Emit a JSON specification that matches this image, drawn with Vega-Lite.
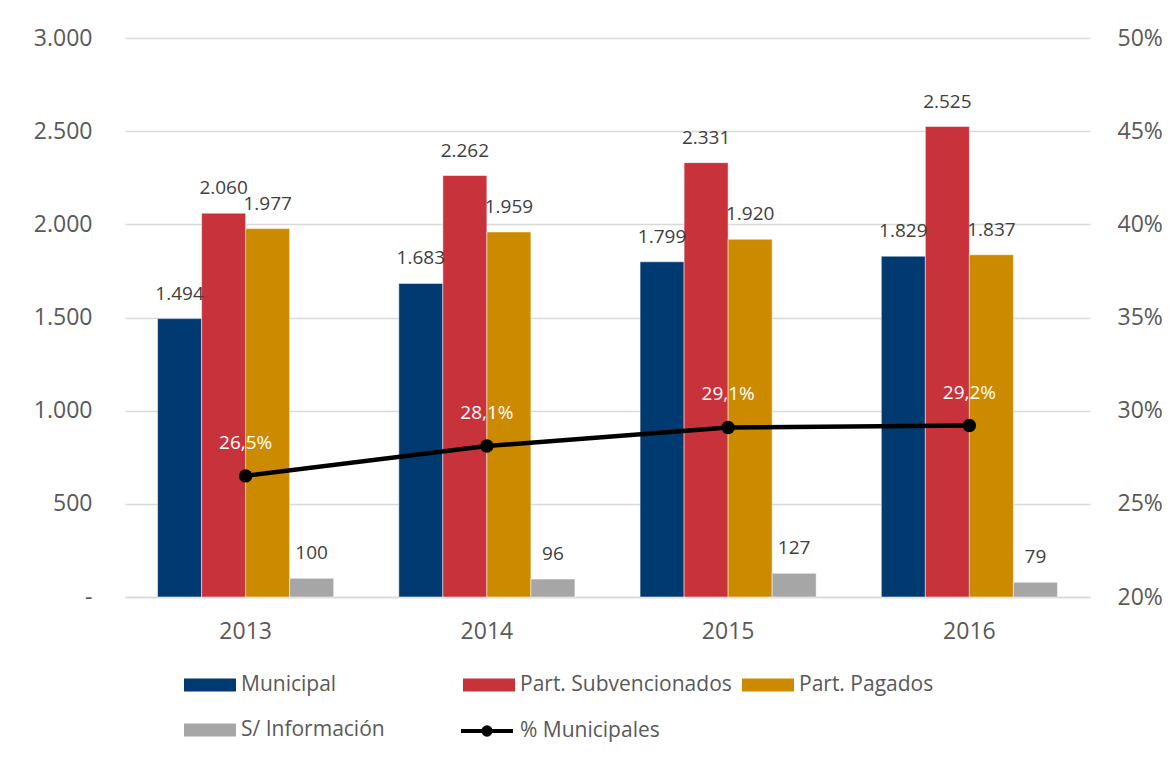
{
  "$schema": "https://vega.github.io/schema/vega-lite/v6.json",
  "width": 965,
  "height": 559,
  "autosize": {"type": "none"},
  "padding": {"left": 125, "top": 38, "right": 82, "bottom": 162},
  "config": {"font": "Open Sans", "view": {"stroke": null}},
  "datasets": {
    "bars": [
      {"anio": "2013", "serie": "Municipal", "valor": 1494},
      {"anio": "2013", "serie": "Part. Subvencionados", "valor": 2060},
      {"anio": "2013", "serie": "Part. Pagados", "valor": 1977},
      {"anio": "2013", "serie": "S/ Información", "valor": 100},
      {"anio": "2014", "serie": "Municipal", "valor": 1683},
      {"anio": "2014", "serie": "Part. Subvencionados", "valor": 2262},
      {"anio": "2014", "serie": "Part. Pagados", "valor": 1959},
      {"anio": "2014", "serie": "S/ Información", "valor": 96},
      {"anio": "2015", "serie": "Municipal", "valor": 1799},
      {"anio": "2015", "serie": "Part. Subvencionados", "valor": 2331},
      {"anio": "2015", "serie": "Part. Pagados", "valor": 1920},
      {"anio": "2015", "serie": "S/ Información", "valor": 127},
      {"anio": "2016", "serie": "Municipal", "valor": 1829},
      {"anio": "2016", "serie": "Part. Subvencionados", "valor": 2525},
      {"anio": "2016", "serie": "Part. Pagados", "valor": 1837},
      {"anio": "2016", "serie": "S/ Información", "valor": 79}
    ],
    "pct": [
      {"anio": "2013", "pct": 0.265},
      {"anio": "2014", "pct": 0.281},
      {"anio": "2015", "pct": 0.291},
      {"anio": "2016", "pct": 0.292}
    ]
  },
  "layer": [
    {
      "data": {"name": "bars"},
      "layer": [
        {
          "mark": {"type": "bar", "stroke": "white", "strokeWidth": 0.5},
          "encoding": {
            "x": {
              "field": "anio", "type": "nominal",
              "scale": {"paddingInner": 0.27, "paddingOuter": 0.135},
              "axis": {"title": null, "labelAngle": 0, "labelFontSize": 23, "labelColor": "#595959", "labelPadding": 23, "ticks": false, "domainColor": "#d9d9d9", "domainWidth": 1.5}
            },
            "xOffset": {"field": "serie", "type": "nominal", "scale": {"domain": ["Municipal", "Part. Subvencionados", "Part. Pagados", "S/ Información"]}},
            "y": {
              "field": "valor", "type": "quantitative",
              "scale": {"domain": [0, 3000]},
              "axis": {"title": null, "values": [0, 500, 1000, 1500, 2000, 2500, 3000], "labelFontSize": 23, "labelColor": "#595959", "labelPadding": 33, "ticks": false, "domain": false, "gridColor": "#d9d9d9", "gridWidth": 1.5,
                "labelExpr": "datum.value == 0 ? '-' : replace(format(datum.value, ','), ',', '.')"}
            },
            "color": {
              "field": "serie", "type": "nominal",
              "scale": {
                "domain": ["Municipal", "Part. Subvencionados", "Part. Pagados", "S/ Información"],
                "range": ["#003A70", "#C8323B", "#CC8A00", "#A6A6A6"]
              },
              "legend": {
                "title": null, "orient": "none", "legendX": 59, "legendY": 621,
                "direction": "horizontal",
                "columns": 3, "gridAlign": "all", "columnPadding": 10, "rowPadding": 9,
                "symbolType": "M-1,-0.25H1V0.25H-1Z", "symbolSize": 2704, "symbolStrokeWidth": 0,
                "labelFontSize": 21, "labelColor": "#595959", "labelOffset": 5, "labelLimit": 400
              }
            }
          }
        },
        {
          "transform": [{"calculate": "replace(format(datum.valor, ','), ',', '.')", "as": "lbl"}],
          "mark": {"type": "text", "baseline": "middle", "dy": -25, "fontSize": 19, "color": "#404040"},
          "encoding": {
            "x": {"field": "anio", "type": "nominal"},
            "xOffset": {"field": "serie", "type": "nominal"},
            "y": {"field": "valor", "type": "quantitative"},
            "text": {"field": "lbl"}
          }
        }
      ]
    },
    {
      "data": {"name": "pct"},
      "layer": [
        {
          "mark": {"type": "line", "strokeWidth": 4.5},
          "encoding": {
            "x": {"field": "anio", "type": "nominal"},
            "y": {
              "field": "pct", "type": "quantitative",
              "scale": {"domain": [0.2, 0.5]},
              "axis": {"title": null, "orient": "right", "values": [0.2, 0.25, 0.3, 0.35, 0.4, 0.45, 0.5], "format": ".0%", "labelFontSize": 23, "labelColor": "#595959", "labelPadding": 27, "ticks": false, "domain": false, "grid": false}
            },
            "stroke": {
              "datum": "% Municipales",
              "scale": {"domain": ["% Municipales"], "range": ["#000000"]},
              "legend": {
                "title": null, "orient": "none", "legendX": 334, "legendY": 665,
                "symbolType": "M-1,0H1M0.14,0A0.14,0.14,0,1,1,-0.14,0A0.14,0.14,0,1,1,0.14,0Z",
                "symbolSize": 2704, "symbolStrokeWidth": 4, "symbolFillColor": "#000000",
                "labelFontSize": 21, "labelColor": "#595959", "labelOffset": 5, "labelLimit": 400
              }
            }
          }
        },
        {
          "mark": {"type": "point", "filled": true, "size": 180, "opacity": 1, "fill": "#000000", "strokeWidth": 0},
          "encoding": {
            "x": {"field": "anio", "type": "nominal"},
            "y": {"field": "pct", "type": "quantitative"}
          }
        },
        {
          "transform": [{"calculate": "replace(format(datum.pct, '.1%'), '.', ',')", "as": "lbl"}],
          "mark": {"type": "text", "baseline": "middle", "dy": -33, "fontSize": 19, "color": "white"},
          "encoding": {
            "x": {"field": "anio", "type": "nominal"},
            "y": {"field": "pct", "type": "quantitative"},
            "text": {"field": "lbl"}
          }
        }
      ]
    }
  ],
  "resolve": {"scale": {"y": "independent"}}
}
